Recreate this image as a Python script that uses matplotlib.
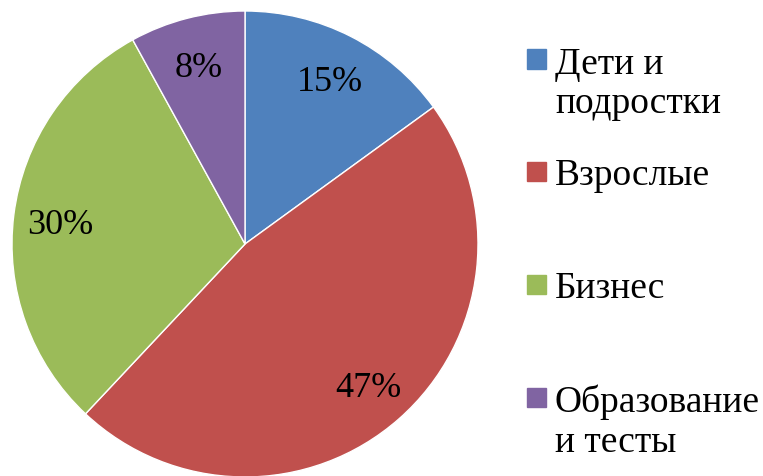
import matplotlib.pyplot as plt
from matplotlib.patches import Rectangle

categories = ["Дети и\nподростки", "Взрослые", "Бизнес", "Образование\nи тесты"]
values = [15, 47, 30, 8]
colors = ["#4F81BD", "#C0504D", "#9BBB59", "#8064A2"]

plt.rcParams['font.family'] = ['Liberation Serif', 'DejaVu Serif']

fig = plt.figure(figsize=(7.63, 4.77), dpi=100)
W, H = 763, 477

# pie axes: centre ~ (245, 245) px, radius ~ 233 px
cx, cy, r = 245, 245, 233
ax = fig.add_axes([(cx - r) / W, (H - cy - r) / H, 2 * r / W, 2 * r / H])
wedges, texts, autotexts = ax.pie(
    values, colors=colors, startangle=90, counterclock=False,
    autopct='%d%%', pctdistance=0.80, radius=1,
    wedgeprops=dict(linewidth=1, edgecolor='white'),
    textprops=dict(fontsize=26, color='black'))
for t in autotexts:
    t.set_va('center_baseline')
ax.set_xlim(-1, 1)
ax.set_ylim(-1, 1)
ax.set_aspect('equal')
ax.axis('off')

# legend drawn by hand so the square sits on the first line
tops = [60, 172, 285, 398]
for lab, col, y in zip(categories, colors, tops):
    fig.patches.append(Rectangle((527 / W, 1 - (y + 9.5) / H), 19 / W, 19 / H,
                                 transform=fig.transFigure, color=col))
    fig.text(555 / W, 1 - (y - 13) / H, lab, fontsize=27, va='top', ha='left',
             linespacing=1.2)

fig.savefig("out.png", dpi=100)
